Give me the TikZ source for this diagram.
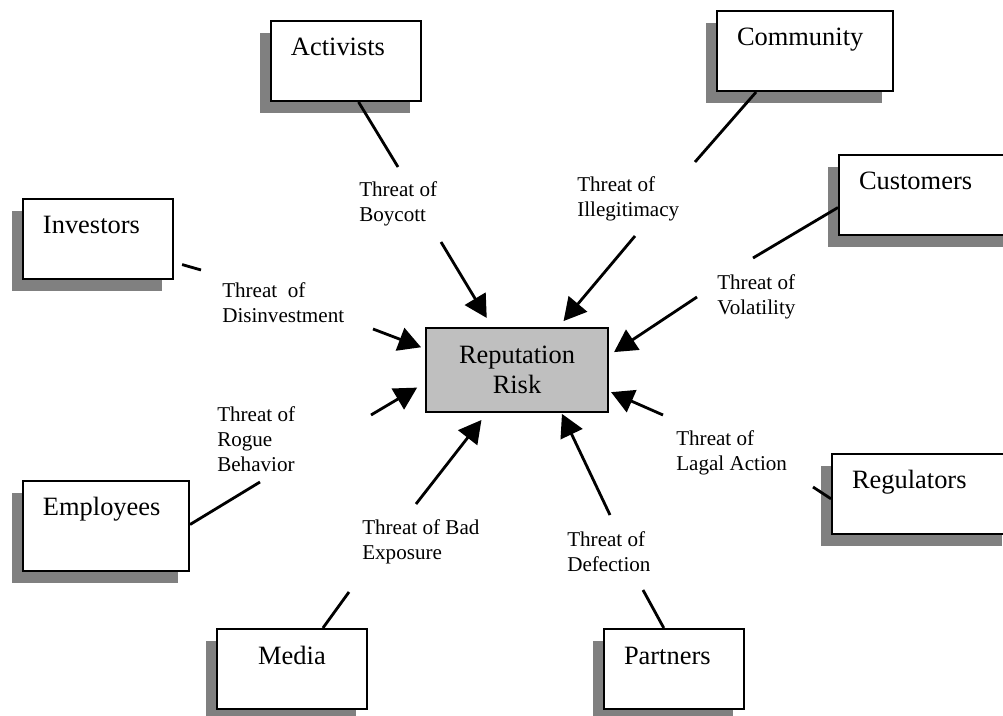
\documentclass[tikz,border=0pt]{standalone}
\usepackage{fontspec}
\setmainfont{Liberation Serif}
\usetikzlibrary{arrows.meta,shadows}
\begin{document}
\begin{tikzpicture}
  [x=0.025cm,y=-0.025cm,every node/.style={font=\fontsize{18.8}{21.3}\selectfont}]
  \tikzstyle{party} = [draw,line width=1.4pt,fill=white,anchor=north west,align=left,
    inner xsep=0.5cm,inner ysep=0pt,text height=0.875cm,text depth=1.125cm,
    drop shadow={shadow xshift=-0.275cm,shadow yshift=-0.3cm,fill=black!50,opacity=1}]
  \tikzstyle{threat} = [anchor=north west,align=left,inner sep=0pt,font=\fontsize{15}{17.8}\selectfont]
  \tikzstyle{spoke} = [line width=2pt]
  \tikzstyle{push} = [line width=2pt,-{Triangle[length=16pt,width=17pt]}]
  \clip (0,0) rectangle (1003,715);
  \node[party,text width=2.75cm] (act) at (270,20) {Activists};
  \node[party,text width=3.4cm] (com) at (716,10) {Community};
  \node[party,text width=3.4cm] (cus) at (838,154) {Customers};
  \node[party,text width=2.75cm] (inv) at (22,198) {Investors};
  \node[party,text width=3.15cm,text depth=1.375cm] (emp) at (22,480) {Employees};
  \node[party,text width=3.525cm] (reg) at (831,453) {Regulators};
  \node[party,text width=2.75cm,align=center] (med) at (216,628) {Media};
  \node[party,text width=2.5cm] (par) at (603,628) {Partners};
  \node[draw,line width=1.4pt,fill=black!25,minimum width=4.55cm,minimum height=2.1cm,
    align=center] (risk) at (517,370) {Reputation\\Risk};
  \node[threat] (t1) at (359,181) {Threat of\\Boycott};
  \node[threat] (t2) at (577,176) {Threat of\\Illegitimacy};
  \node[threat] (t3) at (717,274) {Threat of\\Volatility};
  \node[threat] (t4) at (222,282) {Threat\ \ of\\Disinvestment};
  \node[threat] (t5) at (217,406) {Threat of\\Rogue\\Behavior};
  \node[threat] (t6) at (676,430) {Threat of\\Lagal Action};
  \node[threat] (t7) at (362,519) {Threat of Bad\\Exposure};
  \node[threat] (t8) at (567,531) {Threat of\\Defection};
  % free ends either side of the labels
  \coordinate (e1) at (398,167); \coordinate (s1) at (441,242);
  \coordinate (e2) at (695,162); \coordinate (s2) at (635,236);
  \coordinate (e3) at (753,258); \coordinate (s3) at (697,297);
  \coordinate (e4) at (201,270); \coordinate (s4) at (373,329);
  \coordinate (e5) at (260,482); \coordinate (s5) at (371,415);
  \coordinate (e6) at (813,487); \coordinate (s6) at (663,415);
  \coordinate (e7) at (349,592); \coordinate (s7) at (416,504);
  \coordinate (e8) at (643,590); \coordinate (s8) at (610,515);
  \foreach \src/\ang/\mid/\gap in {act/-73/e1/0pt,com/-140/e2/0pt,cus/-172/e3/0pt,inv/-17/e4/6pt,
    emp/1/e5/0pt,reg/183/e6/0pt,med/53/e7/0pt,par/104/e8/0pt}
   \draw[spoke,shorten <=\gap] (\src.\ang) -- (\mid);
  \foreach \from/\ang/\gap in {s1/120/7.5pt,s2/46/5.5pt,s3/9/4.3pt,s4/167/3pt,
    s5/-172/6.5pt,s6/-13/1.6pt,s7/-125/6.3pt,s8/-44/0.7pt}
   \draw[push,shorten >=\gap] (\from) -- (risk.\ang);
\end{tikzpicture}
\end{document}
